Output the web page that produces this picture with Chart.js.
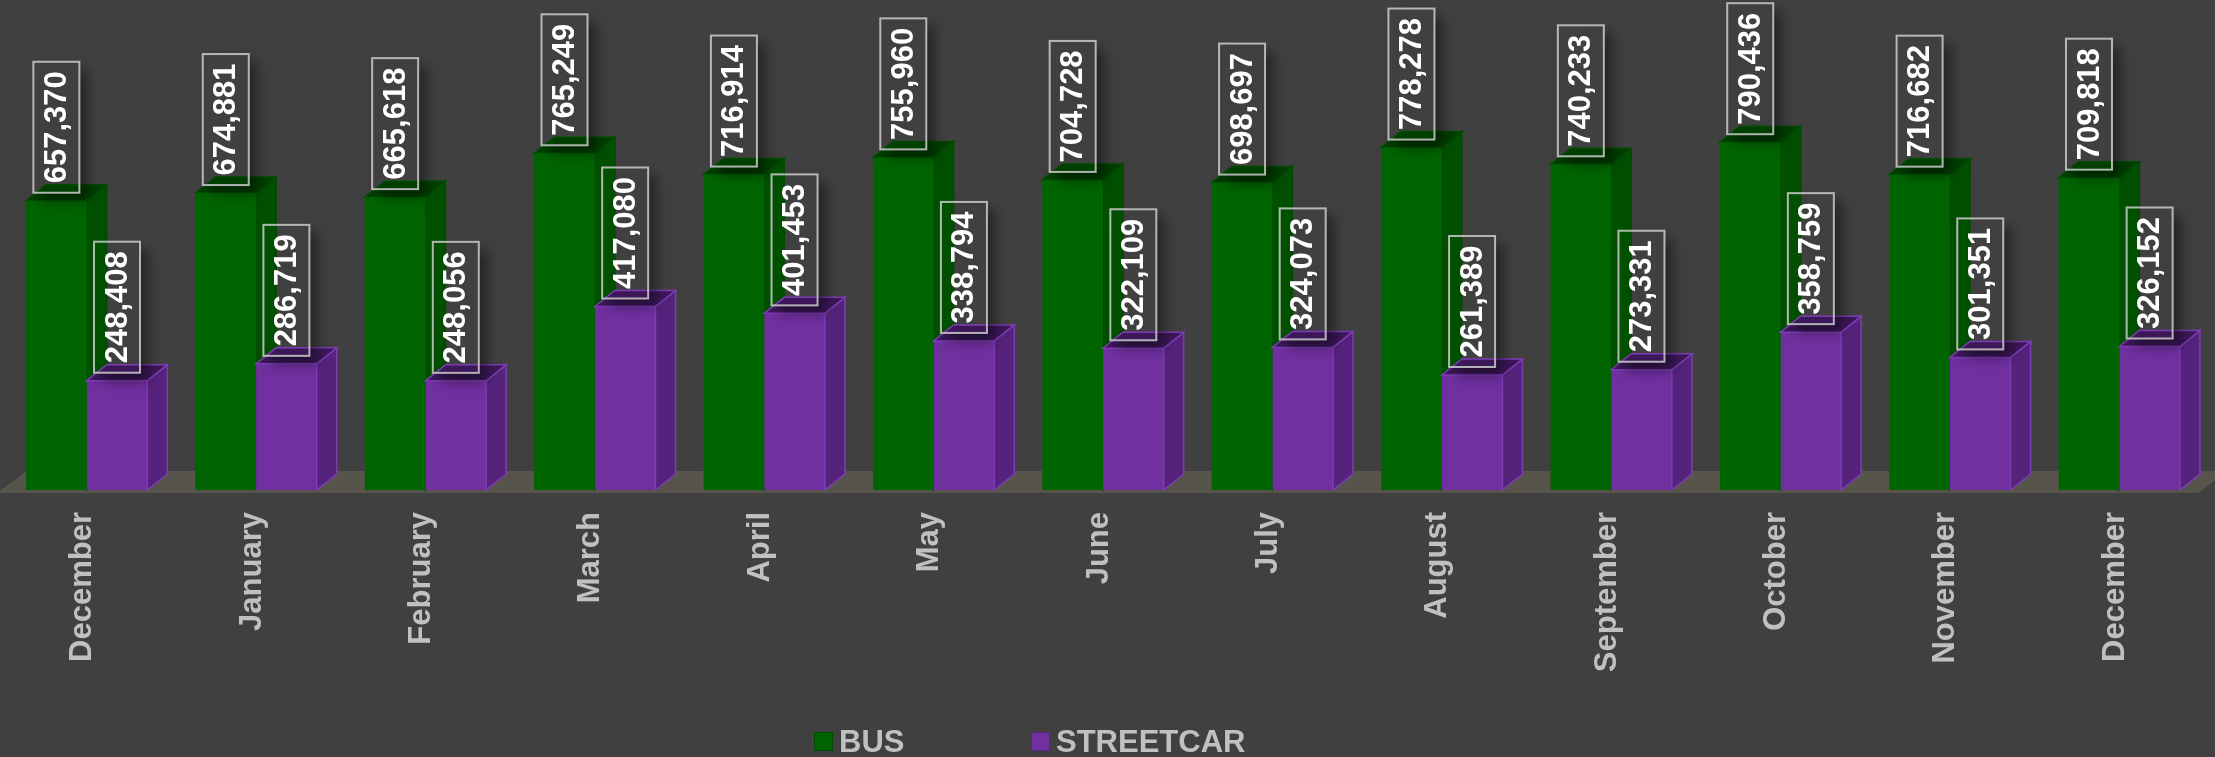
<!DOCTYPE html>
<html><head><meta charset="utf-8">
<script src="https://cdn.jsdelivr.net/npm/chart.js@4.4.1/dist/chart.umd.min.js"></script>
<style>html,body{margin:0;padding:0;background:#404040;overflow:hidden}</style>
</head><body>
<canvas id="c" width="2215" height="757" style="display:block;width:2215px;height:757px"></canvas>
<script>
const categories = ['December','January','February','March','April','May','June','July','August','September','October','November','December'];
const busValues = [657370,674881,665618,765249,716914,755960,704728,698697,778278,740233,790436,716682,709818];
const streetcarValues = [248408,286719,248056,417080,401453,338794,322109,324073,261389,273331,358759,301351,326152];
const seriesNames = ['BUS','STREETCAR'];
const yMax = 1000000;

const FONT = '"Liberation Sans", Arial, sans-serif';
const DX = 20, DY = 16;
const faceStyles = [
  {front:'#006400', side:'#005000', top:'#003f00', edge:'#004a00'},
  {front:'#7030a0', side:'#55237c', top:'#3c1859', edge:'#7d3cb6'}
];

function barGeom(el){
  const p = el.getProps(['x','y','base','width'], true);
  return {l:p.x - p.width/2, r:p.x + p.width/2, x:p.x, y:p.y, base:p.base, w:p.width};
}
function drawFaces(ctx, el, f){
  const g = barGeom(el);
  ctx.save();
  ctx.lineWidth = 1.5;
  ctx.strokeStyle = f.edge;
  ctx.fillStyle = f.side;
  ctx.beginPath();
  ctx.moveTo(g.r, g.y); ctx.lineTo(g.r+DX, g.y-DY); ctx.lineTo(g.r+DX, g.base-DY); ctx.lineTo(g.r, g.base);
  ctx.closePath(); ctx.fill(); ctx.stroke();
  ctx.fillStyle = f.top;
  ctx.beginPath();
  ctx.moveTo(g.l, g.y); ctx.lineTo(g.l+DX, g.y-DY); ctx.lineTo(g.r+DX, g.y-DY); ctx.lineTo(g.r, g.y);
  ctx.closePath(); ctx.fill(); ctx.stroke();
  ctx.restore();
}

const threeD = {
  id:'threeD',
  beforeDatasetsDraw(chart){
    const ctx = chart.ctx, a = chart.chartArea;
    ctx.save();
    ctx.fillStyle = '#57544c';
    ctx.beginPath();
    ctx.moveTo(a.left-5, a.bottom+3);
    ctx.lineTo(a.right-6, a.bottom+3);
    ctx.lineTo(a.right+24, a.bottom-19);
    ctx.lineTo(a.left+25, a.bottom-19);
    ctx.closePath(); ctx.fill();
    ctx.restore();
    chart.getDatasetMeta(0).data.forEach(el => drawFaces(ctx, el, faceStyles[0]));
  },
  afterDatasetsDraw(chart){
    const ctx = chart.ctx;
    chart.getDatasetMeta(1).data.forEach(el => drawFaces(ctx, el, faceStyles[1]));
    [0,1].forEach(di => {
      const ds = chart.data.datasets[di];
      chart.getDatasetMeta(di).data.forEach((el, i) => {
        const g = barGeom(el);
        const bw = 46, bh = 131;
        const bx = g.x - bw/2, by = g.y - 8 - bh;
        ctx.save();
        ctx.beginPath();
        ctx.rect(0,0,chart.width,chart.height);
        ctx.rect(bx, by, bw, bh);
        ctx.clip('evenodd');
        ctx.shadowColor = 'rgba(0,0,0,0.45)';
        ctx.shadowBlur = 12;
        ctx.shadowOffsetX = 10000 + 8;
        ctx.shadowOffsetY = 8;
        ctx.fillStyle = '#000';
        ctx.fillRect(bx - 10000, by, bw, bh);
        ctx.restore();
        ctx.save();
        ctx.strokeStyle = 'rgba(205,205,205,0.85)';
        ctx.lineWidth = 2;
        ctx.strokeRect(bx, by, bw, bh);
        ctx.translate(g.x, by + bh/2);
        ctx.rotate(-Math.PI/2);
        ctx.fillStyle = '#ffffff';
        ctx.font = 'bold 31px ' + FONT;
        ctx.textAlign = 'center';
        ctx.textBaseline = 'middle';
        ctx.fillText(ds.data[i].toLocaleString('en-US'), 0, 1);
        ctx.restore();
      });
    });
  },
  afterDraw(chart){
    const ctx = chart.ctx;
    const items = [
      {x:814, color:faceStyles[0].front, border:'#004a00', text:seriesNames[0]},
      {x:1031, color:faceStyles[1].front, border:'#5a2485', text:seriesNames[1]}
    ];
    ctx.save();
    items.forEach(it => {
      ctx.fillStyle = it.color;
      ctx.fillRect(it.x, 732, 19, 19);
      ctx.strokeStyle = it.border; ctx.lineWidth = 1;
      ctx.strokeRect(it.x+0.5, 732.5, 18, 18);
      ctx.fillStyle = '#c0c0c0';
      ctx.font = 'bold 31px ' + FONT;
      ctx.textAlign = 'left';
      ctx.textBaseline = 'alphabetic';
      ctx.fillText(it.text, it.x + 25, 752);
    });
    ctx.restore();
  }
};

new Chart(document.getElementById('c'), {
  type:'bar',
  data:{
    labels:categories,
    datasets:[
      {label:seriesNames[0], data:busValues, backgroundColor:faceStyles[0].front, borderWidth:0},
      {label:seriesNames[1], data:streetcarValues, backgroundColor:faceStyles[1].front, borderWidth:0}
    ]
  },
  options:{
    responsive:false,
    animation:false,
    devicePixelRatio:1,
    layout:{padding:{left:2, right:11, top:50, bottom:0}},
    datasets:{bar:{barPercentage:1, categoryPercentage:0.716}},
    plugins:{legend:{display:false}, tooltip:{enabled:false}},
    scales:{
      x:{
        grid:{display:false, drawTicks:false},
        border:{display:false},
        ticks:{color:'#c0c0c0', font:{family:FONT, size:31, weight:'bold'}, minRotation:90, maxRotation:90, autoSkip:false, padding:22, labelOffset:-4},
        afterFit(scale){ scale.height = 267; }
      },
      y:{display:false, min:0, max:yMax}
    }
  },
  plugins:[threeD]
});
</script>
</body></html>
